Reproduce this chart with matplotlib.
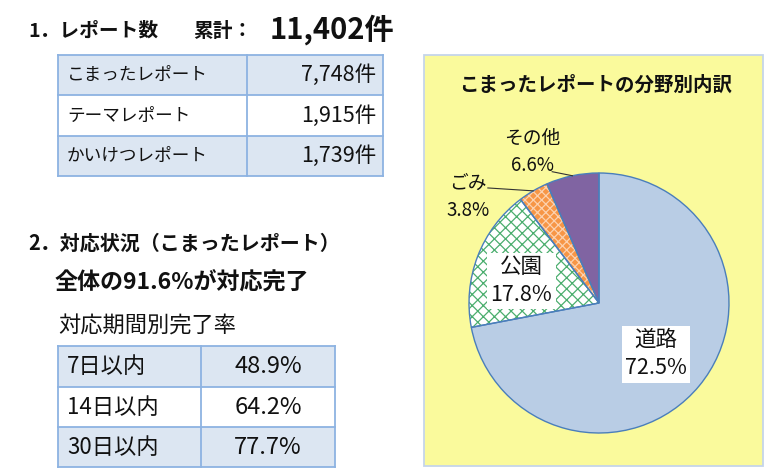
import matplotlib
matplotlib.use('Agg')
import numpy as np
import matplotlib.pyplot as plt
from matplotlib.patches import Rectangle

plt.rcParams['font.family'] = ['Noto Sans CJK JP', 'DejaVu Sans']
plt.rcParams['hatch.linewidth'] = 0.9

# データ
total_count = 11402
report_types = ['こまったレポート', 'テーマレポート', 'かいけつレポート']
report_counts = [7748, 1915, 1739]
overall_rate = 91.6
period_labels = ['7日以内', '14日以内', '30日以内']
period_rates = [48.9, 64.2, 77.7]
field_names = ['道路', '公園', 'ごみ', 'その他']
field_shares = [72.5, 17.8, 3.8, 6.6]

W, H = 768, 474
TXT = '#111111'
BLUE_FILL = '#DCE6F2'
BORDER = '#8DB3E2'

fig = plt.figure(figsize=(W / 100, H / 100), dpi=100)
fig.patch.set_facecolor('white')
bg = fig.add_axes([0, 0, 1, 1])
bg.set_xlim(0, W)
bg.set_ylim(H, 0)
bg.axis('off')


def draw_table(ax, xs, ys, fills):
    for i in range(len(ys) - 1):
        ax.add_patch(Rectangle((xs[0], ys[i]), xs[-1] - xs[0], ys[i + 1] - ys[i],
                               facecolor=fills[i], edgecolor='none'))
    for y in ys:
        ax.plot([xs[0], xs[-1]], [y, y], color=BORDER, lw=1.3, solid_capstyle='projecting')
    for x in xs:
        ax.plot([x, x], [ys[0], ys[-1]], color=BORDER, lw=1.3, solid_capstyle='projecting')


# 1. レポート数
bg.text(28, 31, '1．レポート数', fontsize=14.2, fontweight='bold', color=TXT, va='center')
bg.text(193, 31, '累計：', fontsize=14.2, fontweight='bold', color=TXT, va='center')
bg.text(270, 30, f'{total_count:,}件', fontsize=21, fontweight='bold', color=TXT, va='center')

ys1 = [55, 95, 136, 176]
xs1 = [58, 247, 383]
draw_table(bg, xs1, ys1, [BLUE_FILL, 'white', BLUE_FILL])
for i, (name, cnt) in enumerate(zip(report_types, report_counts)):
    yc = (ys1[i] + ys1[i + 1]) / 2
    bg.text(67, yc, name, fontsize=12.7, color=TXT, va='center', ha='left')
    bg.text(376, yc, f'{cnt:,}件', fontsize=15.5, color=TXT, va='center', ha='right')

# 2. 対応状況
bg.text(28, 243, '2．対応状況（こまったレポート）', fontsize=14.4, fontweight='bold', color=TXT, va='center')
bg.text(55, 283, f'全体の{overall_rate}%が対応完了', fontsize=16.6, fontweight='bold', color=TXT, va='center')
bg.text(58, 326, '対応期間別完了率', fontsize=16, color=TXT, va='center')

ys2 = [346, 387, 427, 467]
xs2 = [58, 201, 335]
draw_table(bg, xs2, ys2, [BLUE_FILL, 'white', BLUE_FILL])
for i, (name, rate) in enumerate(zip(period_labels, period_rates)):
    yc = (ys2[i] + ys2[i + 1]) / 2
    bg.text(67, yc, name, fontsize=16, color=TXT, va='center', ha='left')
    bg.text(268, yc, f'{rate}%', fontsize=17, color=TXT, va='center', ha='center')

# 分野別内訳 (円グラフ)
bg.add_patch(Rectangle((424, 55), 339, 411, facecolor='#FAFA9C', edgecolor='#C5D5EA', lw=1.3))
bg.text(596, 85, 'こまったレポートの分野別内訳', fontsize=14, fontweight='bold',
        color=TXT, va='center', ha='center')

cx, cy, R = 599, 303, 130
pax = fig.add_axes([(cx - R) / W, (H - cy - R) / H, 2 * R / W, 2 * R / H])
fills = ['#B9CDE5', 'white', '#F79646', '#8064A2']
hatches = [None, 'xxx', 'xxxx', None]
hatch_cols = ['#B9CDE5', '#4BAE6E', '#FCD2B0', '#8064A2']
wedges, _ = pax.pie(field_shares, startangle=90, counterclock=False, colors=fills,
                    wedgeprops=dict(linewidth=0))
for w, h, hc in zip(wedges, hatches, hatch_cols):
    w.set_edgecolor(hc)
    if h:
        w.set_hatch(h)
pax.pie(field_shares, startangle=90, counterclock=False,
        wedgeprops=dict(linewidth=1.0, edgecolor='#4A7EBB', fill=False))
pax.set_xlim(-1, 1)
pax.set_ylim(-1, 1)
pax.set_aspect('equal')
pax.axis('off')

mids = [np.deg2rad((w.theta1 + w.theta2) / 2) for w in wedges]

# 内側ラベル
for k, r, dy in [(0, 0.57, -0.03), (1, 0.64, -0.06)]:
    a = mids[k]
    pax.text(r * np.cos(a), r * np.sin(a) + dy,
             f'{field_names[k]}\n{field_shares[k]}%', fontsize=15.5, color=TXT,
             ha='center', va='center', linespacing=1.35,
             bbox=dict(facecolor='white', edgecolor='none', pad=2.5))

# 外側ラベル
outer = {2: ((-1.01, 0.815), (-0.855, 0.885)), 3: ((-0.51, 1.165), (-0.36, 1.01))}
for k, ((tx, ty), (lx, ly)) in outer.items():
    a = mids[k]
    pax.text(tx, ty, f'{field_names[k]}\n{field_shares[k]}%', fontsize=13.5, color=TXT,
             ha='center', va='center', linespacing=1.4)
    pax.plot([lx, np.cos(a)], [ly, np.sin(a)], color='#333333', lw=0.8, clip_on=False)

fig.savefig('out.png', dpi=100, facecolor='white')
